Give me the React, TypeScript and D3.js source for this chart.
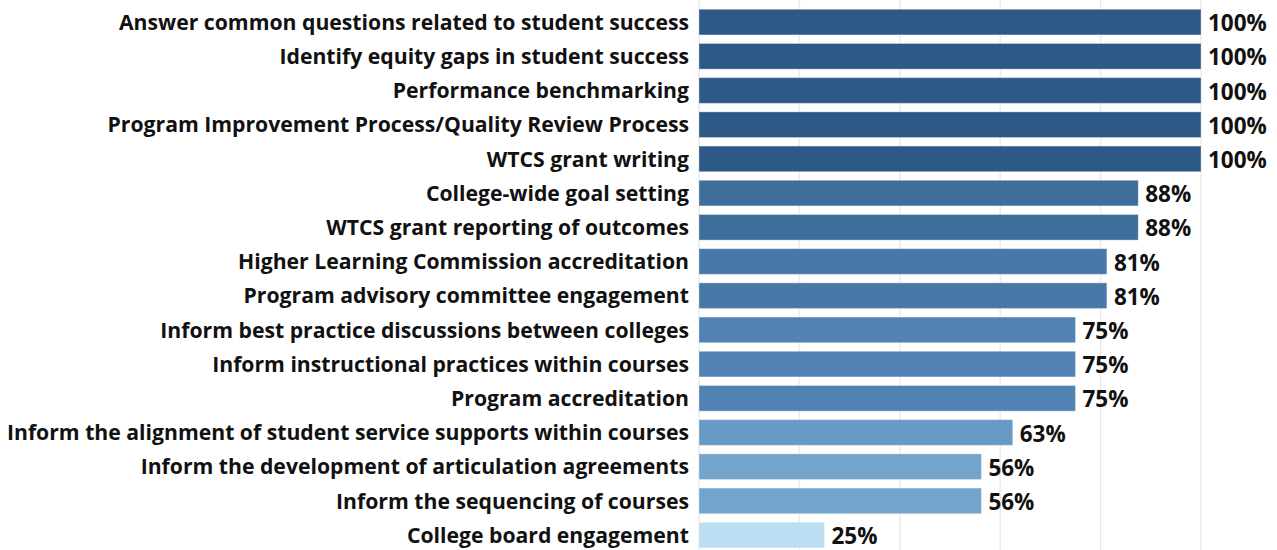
import React, { useEffect, useRef } from 'react';
import * as d3 from 'd3';

const categories = [
  'Answer common questions related to student success',
  'Identify equity gaps in student success',
  'Performance benchmarking',
  'Program Improvement Process/Quality Review Process',
  'WTCS grant writing',
  'College-wide goal setting',
  'WTCS grant reporting of outcomes',
  'Higher Learning Commission accreditation',
  'Program advisory committee engagement',
  'Inform best practice discussions between colleges',
  'Inform instructional practices within courses',
  'Program accreditation',
  'Inform the alignment of student service supports within courses',
  'Inform the development of articulation agreements',
  'Inform the sequencing of courses',
  'College board engagement',
];

// percent of respondents
const values = [100, 100, 100, 100, 100, 87.5, 87.5, 81.25, 81.25, 75, 75, 75, 62.5, 56.25, 56.25, 25];

const gridTicks = [0, 20, 40, 60, 80, 100];

const colorStops = [25, 56.25, 62.5, 75, 81.25, 87.5, 100];
const colorRange = ['#bbdef2', '#72a4cc', '#679ac5', '#5282b3', '#4878a7', '#3e6e9a', '#2c5985'];

const App = () => {
  const svgRef = useRef<SVGSVGElement>(null);

  useEffect(() => {
    const width = 1277;
    const height = 550;
    const margin = { top: 5, right: 76, bottom: 0, left: 699 };

    const svg = d3.select(svgRef.current);
    svg.selectAll('*').remove();

    const x = d3.scaleLinear().domain([0, 100]).range([margin.left, width - margin.right]);
    const y = d3
      .scaleBand()
      .domain(categories)
      .range([margin.top, margin.top + 34.2 * categories.length])
      .paddingInner(0.25)
      .paddingOuter(0.125);
    const color = d3.scaleLinear<string>().domain(colorStops).range(colorRange);

    const font = "'Open Sans', Lato, sans-serif";

    svg
      .append('g')
      .selectAll('line')
      .data(gridTicks)
      .enter()
      .append('line')
      .attr('x1', d => x(d))
      .attr('x2', d => x(d))
      .attr('y1', 0)
      .attr('y2', height)
      .attr('stroke', '#ebebeb')
      .attr('stroke-width', 1.5);

    const data = categories.map((c, i) => ({ c, v: values[i] }));

    svg
      .append('g')
      .selectAll('rect')
      .data(data)
      .enter()
      .append('rect')
      .attr('x', x(0))
      .attr('y', d => y(d.c)!)
      .attr('width', d => x(d.v) - x(0))
      .attr('height', y.bandwidth())
      .attr('fill', d => color(d.v))
      .attr('stroke', 'rgba(255,255,255,0.35)')
      .attr('stroke-width', 1);

    svg
      .append('g')
      .selectAll('text')
      .data(data)
      .enter()
      .append('text')
      .attr('x', x(0) - 10)
      .attr('y', d => y(d.c)! + y.bandwidth() / 2)
      .attr('dy', '0.36em')
      .attr('text-anchor', 'end')
      .attr('font-family', font)
      .attr('font-weight', 700)
      .attr('font-size', 21.2)
      .attr('fill', '#111')
      .text(d => d.c);

    svg
      .append('g')
      .selectAll('text')
      .data(data)
      .enter()
      .append('text')
      .attr('x', d => x(d.v) + 7)
      .attr('y', d => y(d.c)! + y.bandwidth() / 2 + 1)
      .attr('dy', '0.36em')
      .attr('font-family', font)
      .attr('font-weight', 700)
      .attr('font-size', 22.5)
      .attr('fill', '#111')
      .text(d => `${Math.round(d.v)}%`);
  }, []);

  return (
    <svg
      ref={svgRef}
      width={1277}
      height={550}
      style={{ position: 'absolute', left: 0, top: 0, background: '#fff' }}
    ></svg>
  );
};

export default App;
